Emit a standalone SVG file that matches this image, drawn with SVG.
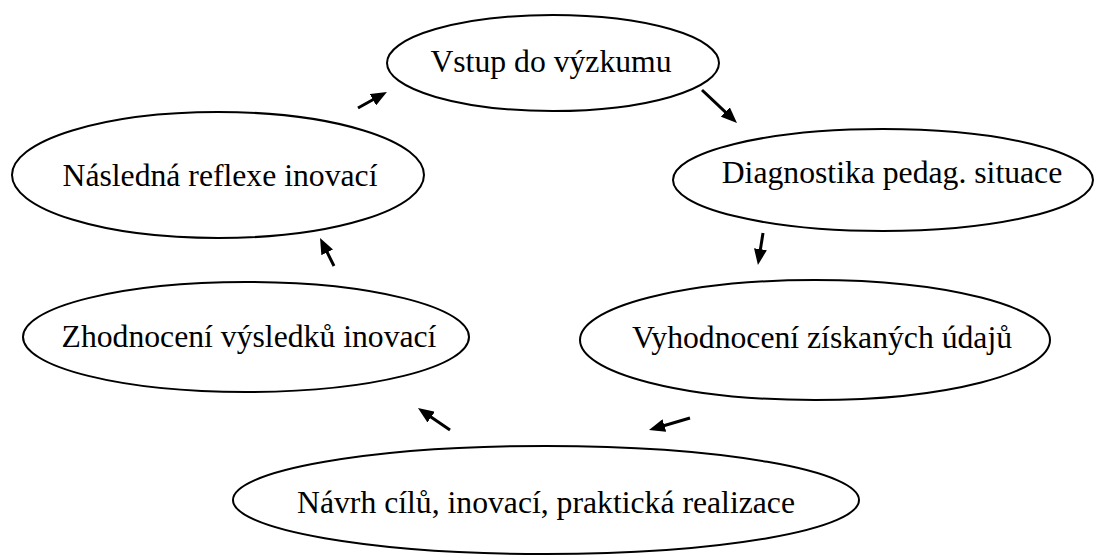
<svg xmlns="http://www.w3.org/2000/svg" width="1094" height="556" viewBox="0 0 1094 556">
<style>
.n ellipse{fill:#fff;stroke:#000;stroke-width:2}
.n text{font-family:"Liberation Serif","Times New Roman",serif;font-size:31.7px;fill:#000;text-anchor:middle}
.c line{stroke:#000;stroke-width:3}
</style>
<defs>
<marker id="ah" markerUnits="userSpaceOnUse" markerWidth="16" markerHeight="13" refX="6" refY="6.5" orient="auto">
<path d="M0,0 L16,6.5 L0,13 z" fill="#000"/>
</marker>
</defs>
<rect width="1094" height="556" fill="#fff"/>
<g id="n1" class="n"><ellipse cx="553" cy="63" rx="166" ry="48"/><text x="551" y="72">Vstup do výzkumu</text></g>
<g id="n2" class="n"><ellipse cx="883" cy="180" rx="210" ry="51"/><text x="892" y="183">Diagnostika pedag. situace</text></g>
<g id="n3" class="n"><ellipse cx="815" cy="340" rx="235" ry="60"/><text x="822" y="348">Vyhodnocení získaných údajů</text></g>
<g id="n4" class="n"><ellipse cx="546" cy="500" rx="313" ry="54"/><text x="546" y="513">Návrh cílů, inovací, praktická realizace</text></g>
<g id="n5" class="n"><ellipse cx="246" cy="337" rx="223" ry="55"/><text x="249" y="347">Zhodnocení výsledků inovací</text></g>
<g id="n6" class="n"><ellipse cx="218" cy="175" rx="206" ry="63"/><text x="220" y="186">Následná reflexe inovací</text></g>
<g id="connectors" class="c">
<line x1="358" y1="108" x2="378.2" y2="96.8" marker-end="url(#ah)"/>
<line x1="702" y1="90" x2="729.7" y2="116.1" marker-end="url(#ah)"/>
<line x1="763" y1="233" x2="759.5" y2="255.1" marker-end="url(#ah)"/>
<line x1="690" y1="418" x2="658.6" y2="427.2" marker-end="url(#ah)"/>
<line x1="450" y1="430" x2="426.2" y2="413.7" marker-end="url(#ah)"/>
<line x1="334" y1="266" x2="324.5" y2="246.9" marker-end="url(#ah)"/>
</g>
</svg>
